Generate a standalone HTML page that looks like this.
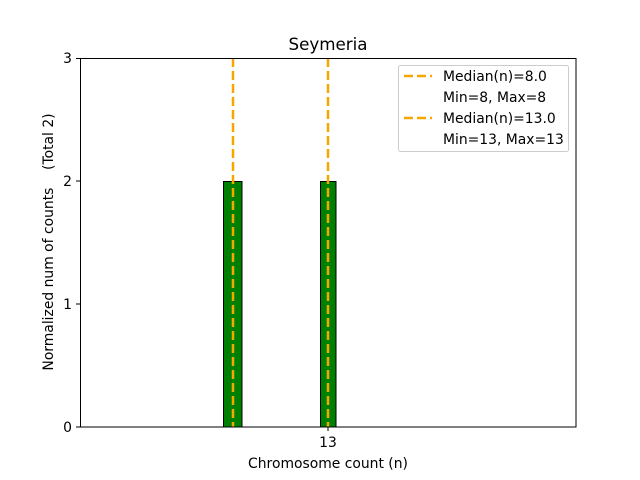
<!DOCTYPE html>
<html><head><style>html,body{margin:0;padding:0;background:#fff}svg{display:block}text{font-family:"DejaVu Sans","Liberation Sans",sans-serif;fill:#000}</style></head>
<body>
<svg width="640" height="480" viewBox="0 0 640 480">
<rect width="640" height="480" fill="#fff"/>
<text x="328" y="50" font-size="16.7" text-anchor="middle">Seymeria</text>
<line x1="80" y1="427" x2="300" y2="427" stroke="#bbb" stroke-width="1"/>
<rect x="223.5" y="181.5" width="18.5" height="245.5" fill="#008000" stroke="#000" stroke-width="1"/>
<rect x="320.5" y="181.5" width="15.5" height="245.5" fill="#008000" stroke="#000" stroke-width="1"/>
<line x1="233" y1="58" x2="233" y2="427" stroke="#f5a700" stroke-width="2.5" stroke-dasharray="9,4"/>
<line x1="328" y1="58" x2="328" y2="427" stroke="#f5a700" stroke-width="2.5" stroke-dasharray="9,4"/>
<rect x="80.5" y="58.5" width="495.5" height="368.5" fill="none" stroke="#000" stroke-width="1"/>
<g stroke="#000" stroke-width="1">
<line x1="76" y1="427" x2="80" y2="427"/><line x1="76" y1="304" x2="80" y2="304"/>
<line x1="76" y1="181" x2="80" y2="181"/><line x1="76" y1="58.5" x2="80" y2="58.5"/>
<line x1="328" y1="427" x2="328" y2="431"/>
</g>
<g font-size="13.9" text-anchor="end">
<text x="72" y="432">0</text><text x="72" y="309">1</text><text x="72" y="186">2</text><text x="72" y="63">3</text>
</g>
<text x="328" y="447" font-size="13.9" text-anchor="middle">13</text>
<text x="328" y="468" font-size="13.9" text-anchor="middle">Chromosome count (n)</text>
<text transform="translate(53,242) rotate(-90)" font-size="13.9" text-anchor="middle">Normalized num of counts &#160;&#160;&#160;(Total 2)</text>
<rect x="398.5" y="65.5" width="170" height="86" rx="2" fill="#fff" stroke="#ccc" stroke-width="1"/>
<line x1="404" y1="76" x2="432" y2="76" stroke="#f5a700" stroke-width="2.5" stroke-dasharray="9,4"/>
<line x1="404" y1="118" x2="432" y2="118" stroke="#f5a700" stroke-width="2.5" stroke-dasharray="9,4"/>
<g font-size="13.9">
<text x="443" y="81">Median(n)=8.0</text>
<text x="443" y="102">Min=8, Max=8</text>
<text x="443" y="123">Median(n)=13.0</text>
<text x="443" y="144">Min=13, Max=13</text>
</g>
</svg>
</body></html>
